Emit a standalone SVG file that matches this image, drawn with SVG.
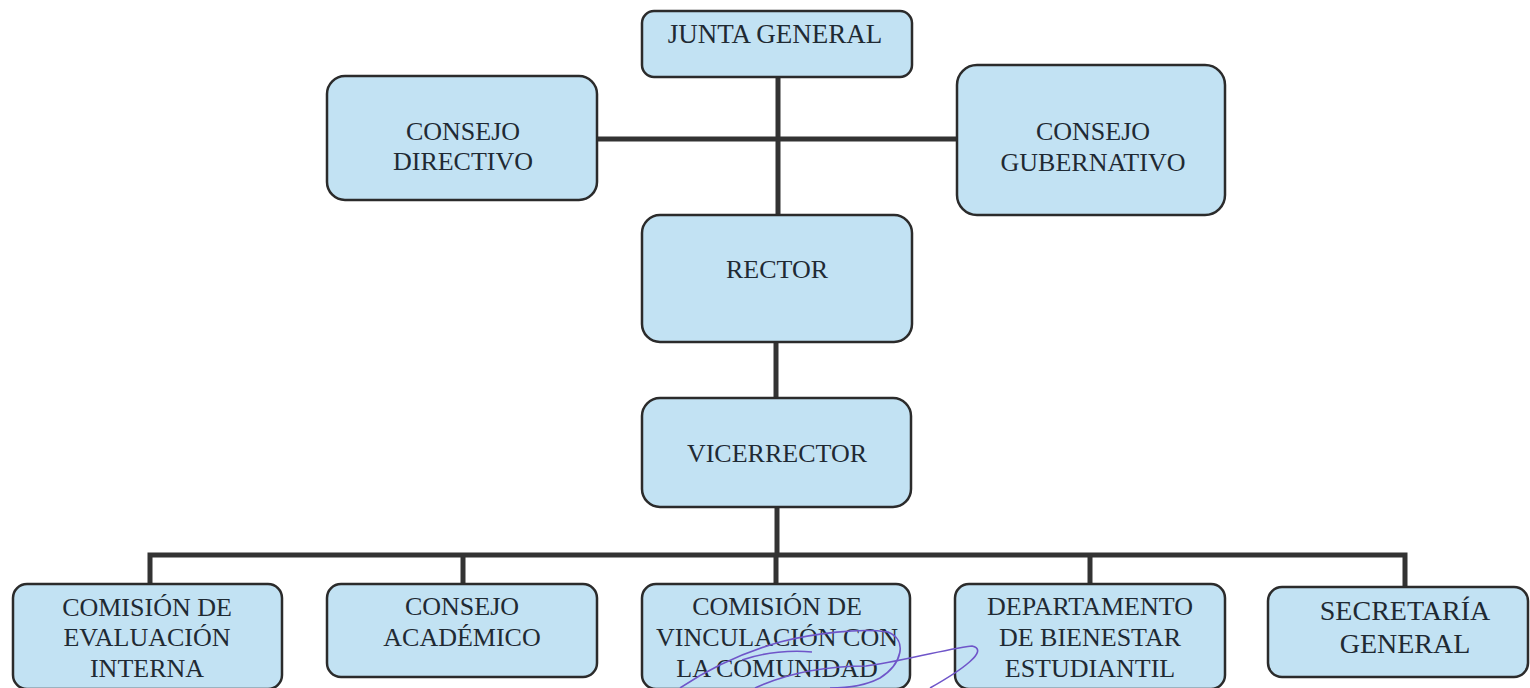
<svg xmlns="http://www.w3.org/2000/svg" width="1530" height="688" viewBox="0 0 1530 688">
<defs>
<style>
.box{fill:#c2e2f3;stroke:#2b2b2b;stroke-width:2.5}
.t{font-family:"Liberation Serif","Times New Roman",serif;font-size:26px;fill:#1f2a33;text-anchor:middle}
.c{stroke:#333;stroke-width:5;fill:none}
.sig{stroke:#6f55c9;stroke-width:1.6;fill:none}
</style>
</defs>
<rect width="1530" height="688" fill="#ffffff"/>
<g id="connectors">
<path class="c" d="M778 77 V215"/>
<path class="c" d="M597 139 H957"/>
<path class="c" d="M776 342 V398"/>
<path class="c" d="M777 507 V555"/>
<path class="c" d="M150 584 V555 H1405 V587"/>
<path class="c" d="M463 555 V584"/>
<path class="c" d="M776 555 V584"/>
<path class="c" d="M1090 555 V584"/>
</g>
<g id="junta"><rect class="box" x="642" y="11" width="270" height="66" rx="12"/><text class="t" x="775" y="43" style="font-size:27px">JUNTA GENERAL</text></g>
<g id="directivo"><rect class="box" x="327" y="76" width="270" height="124" rx="18"/><text class="t" x="463" y="140">CONSEJO</text><text class="t" x="463" y="170">DIRECTIVO</text></g>
<g id="gubernativo"><rect class="box" x="957" y="65" width="268" height="150" rx="20"/><text class="t" x="1093" y="140">CONSEJO</text><text class="t" x="1093" y="171">GUBERNATIVO</text></g>
<g id="rector"><rect class="box" x="642" y="215" width="270" height="127" rx="18"/><text class="t" x="777" y="278">RECTOR</text></g>
<g id="vicerrector"><rect class="box" x="642" y="398" width="269" height="109" rx="18"/><text class="t" x="777" y="462">VICERRECTOR</text></g>
<g id="evaluacion"><rect class="box" x="13" y="584" width="269" height="105" rx="14"/><text class="t" x="147" y="616">COMISIÓN DE</text><text class="t" x="147" y="646">EVALUACIÓN</text><text class="t" x="147" y="677">INTERNA</text></g>
<g id="academico"><rect class="box" x="327" y="584" width="270" height="93" rx="14"/><text class="t" x="462" y="615">CONSEJO</text><text class="t" x="462" y="646">ACADÉMICO</text></g>
<g id="vinculacion"><rect class="box" x="642" y="584" width="268" height="105" rx="14"/><text class="t" x="777" y="615">COMISIÓN DE</text><text class="t" x="777" y="646">VINCULACIÓN CON</text><text class="t" x="777" y="677">LA COMUNIDAD</text></g>
<g id="bienestar"><rect class="box" x="955" y="584" width="270" height="105" rx="14"/><text class="t" x="1090" y="615">DEPARTAMENTO</text><text class="t" x="1090" y="646">DE BIENESTAR</text><text class="t" x="1090" y="677">ESTUDIANTIL</text></g>
<g id="secretaria"><rect class="box" x="1268" y="587" width="260" height="90" rx="14"/><text class="t" x="1405" y="620" style="font-size:28px">SECRETARÍA</text><text class="t" x="1405" y="653" style="font-size:28px">GENERAL</text></g>
<g id="signature">
<path class="sig" d="M680 688 C710 668 745 652 780 642 C815 633 860 628 888 632 C908 640 902 664 880 678 C865 686 845 688 830 688"/>
<path class="sig" d="M755 688 C790 672 830 666 866 666 C900 662 940 650 972 646 C990 650 962 670 930 688"/>
<path class="sig" d="M742 660 C765 652 792 650 812 652"/>
</g>
</svg>
